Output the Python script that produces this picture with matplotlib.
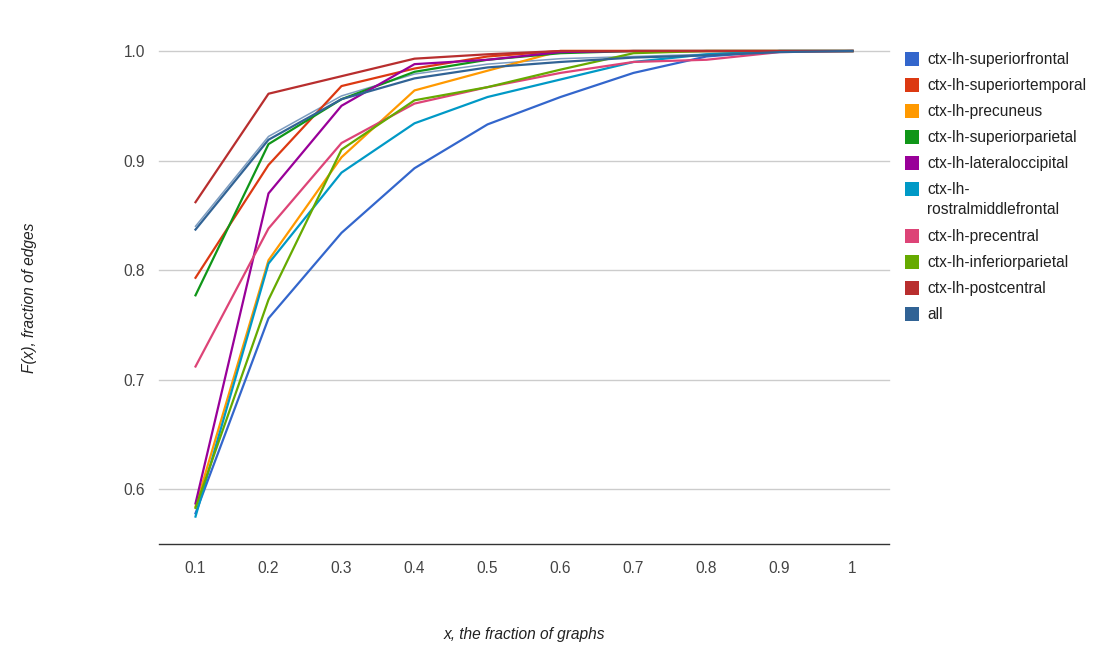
import matplotlib
matplotlib.use("Agg")
import matplotlib.pyplot as plt
from matplotlib.patches import Rectangle

plt.rcParams['font.family'] = ['Liberation Sans', 'DejaVu Sans']

x = [0.1, 0.2, 0.3, 0.4, 0.5, 0.6, 0.7, 0.8, 0.9, 1.0]

series_names = [
    "ctx-lh-superiorfrontal",
    "ctx-lh-superiortemporal",
    "ctx-lh-precuneus",
    "ctx-lh-superiorparietal",
    "ctx-lh-lateraloccipital",
    "ctx-lh-rostralmiddlefrontal",
    "ctx-lh-precentral",
    "ctx-lh-inferiorparietal",
    "ctx-lh-postcentral",
    "all",
]
legend_labels = [
    "ctx-lh-superiorfrontal",
    "ctx-lh-superiortemporal",
    "ctx-lh-precuneus",
    "ctx-lh-superiorparietal",
    "ctx-lh-lateraloccipital",
    "ctx-lh-\nrostralmiddlefrontal",
    "ctx-lh-precentral",
    "ctx-lh-inferiorparietal",
    "ctx-lh-postcentral",
    "all",
]

superiorfrontal      = [0.578, 0.756, 0.834, 0.893, 0.933, 0.958, 0.980, 0.995, 1.000, 1.000]
superiortemporal     = [0.793, 0.896, 0.968, 0.984, 0.995, 1.000, 1.000, 1.000, 1.000, 1.000]
precuneus            = [0.584, 0.809, 0.903, 0.964, 0.982, 1.000, 1.000, 1.000, 1.000, 1.000]
superiorparietal     = [0.777, 0.915, 0.956, 0.981, 0.992, 0.998, 1.000, 1.000, 1.000, 1.000]
lateraloccipital     = [0.587, 0.870, 0.950, 0.988, 0.992, 0.999, 1.000, 1.000, 1.000, 1.000]
rostralmiddlefrontal = [0.575, 0.806, 0.889, 0.934, 0.958, 0.974, 0.990, 0.997, 1.000, 1.000]
precentral           = [0.712, 0.838, 0.916, 0.952, 0.967, 0.980, 0.990, 0.992, 0.999, 1.000]
inferiorparietal     = [0.583, 0.773, 0.910, 0.955, 0.967, 0.983, 0.998, 1.000, 1.000, 1.000]
postcentral          = [0.862, 0.961, 0.977, 0.993, 0.997, 1.000, 1.000, 1.000, 1.000, 1.000]
all_edges            = [0.837, 0.919, 0.956, 0.975, 0.985, 0.990, 0.994, 0.996, 0.999, 1.000]
all_edges_twin       = [0.840, 0.922, 0.959, 0.979, 0.988, 0.993, 0.995, 0.997, 1.000, 1.000]

values = [superiorfrontal, superiortemporal, precuneus, superiorparietal,
          lateraloccipital, rostralmiddlefrontal, precentral, inferiorparietal,
          postcentral, all_edges]

colors = ["#3366cc", "#dc3912", "#ff9900", "#109618", "#990099",
          "#0099c6", "#dd4477", "#66aa00", "#b82e2e", "#316395"]

y_ticks = [0.6, 0.7, 0.8, 0.9, 1.0]
y_tick_labels = ["0.6", "0.7", "0.8", "0.9", "1.0"]
x_ticks = [0.1, 0.2, 0.3, 0.4, 0.5, 0.6, 0.7, 0.8, 0.9, 1.0]
x_tick_labels = ["0.1", "0.2", "0.3", "0.4", "0.5", "0.6", "0.7", "0.8", "0.9", "1"]

W, H = 1104, 657
fig = plt.figure(figsize=(W / 100, H / 100), dpi=100)
ax = fig.add_axes([159 / W, 1 - 544 / H, (889 - 159) / W, (544 - 51) / H])

ax.set_xlim(0.05, 1.05)
ax.set_ylim(0.55, 1.0)

for yt in y_ticks:
    ax.axhline(yt, color="#cccccc", lw=1.0, zorder=0, clip_on=False)

# lighter twin of "all"
ax.plot(x, all_edges_twin, color="#7c9cc0", lw=1.1, zorder=2, clip_on=False)
for vals, c in zip(values, colors):
    ax.plot(x, vals, color=c, lw=1.6, zorder=3, clip_on=False)

for s in ["top", "right", "left"]:
    ax.spines[s].set_visible(False)
ax.spines["bottom"].set_color("#333333")
ax.spines["bottom"].set_linewidth(1.0)

FS = 11.2
ax.set_yticks(y_ticks)
ax.set_yticklabels(y_tick_labels)
ax.set_xticks(x_ticks)
ax.set_xticklabels(x_tick_labels)
ax.tick_params(axis="both", length=0, labelsize=FS, labelcolor="#444444")
ax.tick_params(axis="y", pad=10)
ax.tick_params(axis="x", pad=12)

fig.text(30 / W, 1 - 298 / H, "F(x), fraction of edges", rotation=90,
         ha="center", va="center", fontsize=FS, style="italic", color="#222222")
fig.text(524 / W, 1 - 634 / H, "x, the fraction of graphs",
         ha="center", va="center", fontsize=FS, style="italic", color="#222222")

# legend
ys = [59, 85, 111, 137, 163, 189, 236, 262, 288, 314]
for lab, c, yy in zip(legend_labels, colors, ys):
    fig.patches.append(Rectangle(((905) / W, 1 - (yy + 7) / H), 14 / W, 14 / H,
                                 transform=fig.transFigure, facecolor=c,
                                 edgecolor="none"))
    fig.text(927 / W, 1 - (yy - 7) / H, lab, ha="left", va="top",
             fontsize=FS, color="#222222", linespacing=1.45)

fig.savefig("out.png", dpi=100)
